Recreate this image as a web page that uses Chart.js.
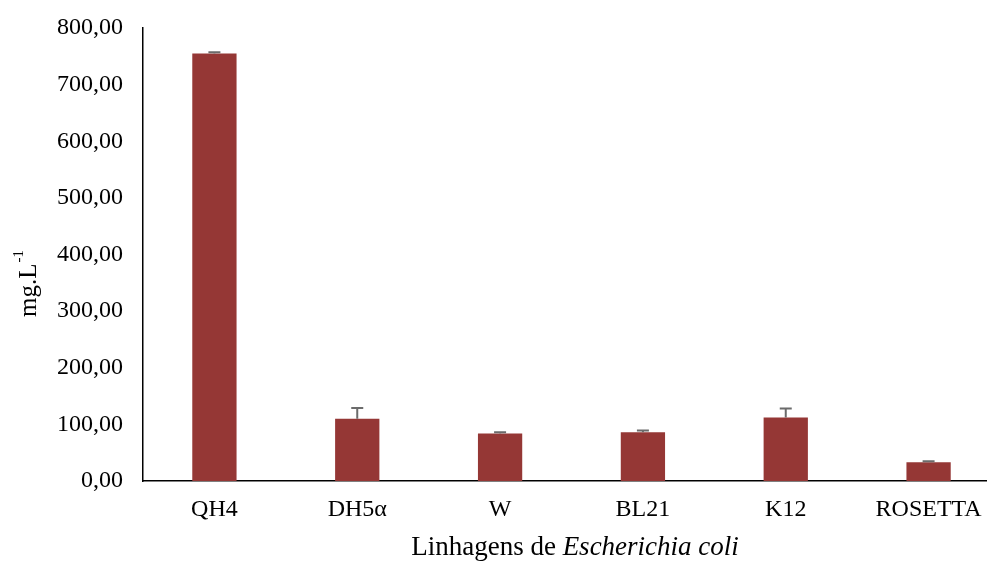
<!DOCTYPE html>
<html>
<head>
<meta charset="utf-8">
<script src="https://cdn.jsdelivr.net/npm/chart.js@4"></script>
<style>
  body { margin: 0; background: #fff; overflow: hidden; }
  #wrap { width: 1000px; height: 561px; position: relative; }
</style>
</head>
<body>
<div id="wrap"><canvas id="chart"></canvas></div>
<script>
// data
var strains = ['QH4', 'DH5\u03b1', 'W', 'BL21', 'K12', 'ROSETTA'];
var values = [755, 110, 84, 86, 112, 33];
var errors = [2, 19, 2, 3, 16, 2];
var yTicks = [0, 100, 200, 300, 400, 500, 600, 700, 800];

var fontFam = '"Liberation Serif", "Times New Roman", serif';

function fmt(v) {
  return v.toFixed(2).replace('.', ',');
}

// upward error bars + axis titles
var extras = {
  id: 'extras',
  afterDatasetsDraw: function(chart) {
    var ctx = chart.ctx;
    var y = chart.scales.y;
    var meta = chart.getDatasetMeta(0);
    ctx.save();
    ctx.strokeStyle = '#6b6b6b';
    ctx.lineWidth = 2;
    meta.data.forEach(function(bar, i) {
      var top = y.getPixelForValue(values[i] + errors[i]);
      var base = y.getPixelForValue(values[i]);
      ctx.beginPath();
      ctx.moveTo(bar.x, base);
      ctx.lineTo(bar.x, top);
      ctx.moveTo(bar.x - 6, top);
      ctx.lineTo(bar.x + 6, top);
      ctx.stroke();
    });
    ctx.restore();
  },
  afterDraw: function(chart) {
    var ctx = chart.ctx;
    ctx.save();
    ctx.fillStyle = '#000';

    // y title: mg.L-1 with superscript
    ctx.translate(29, 284);
    ctx.rotate(-Math.PI / 2);
    ctx.textBaseline = 'middle';
    ctx.textAlign = 'left';
    var main = 'mg.L';
    ctx.font = '15px ' + fontFam;
    var supW = ctx.measureText('-1').width;
    ctx.font = '25px ' + fontFam;
    var mainW = ctx.measureText(main).width;
    var sx = -(mainW + supW) / 2;
    ctx.fillText(main, sx, 0);
    ctx.font = '15px ' + fontFam;
    ctx.fillText('-1', sx + mainW + 1, -10);
    ctx.setTransform(1, 0, 0, 1, 0, 0);

    // x title with italic species name
    var p1 = 'Linhagens de ';
    var p2 = 'Escherichia coli';
    ctx.font = '27px ' + fontFam;
    var w1 = ctx.measureText(p1).width;
    ctx.font = 'italic 27px ' + fontFam;
    var w2 = ctx.measureText(p2).width;
    var cx = 575 - (w1 + w2) / 2;
    ctx.textBaseline = 'middle';
    ctx.font = '27px ' + fontFam;
    ctx.fillText(p1, cx, 548);
    ctx.font = 'italic 27px ' + fontFam;
    ctx.fillText(p2, cx + w1, 548);
    ctx.restore();
  }
};

new Chart(document.getElementById('chart'), {
  type: 'bar',
  data: {
    labels: strains,
    datasets: [{
      data: values,
      backgroundColor: '#953735',
      borderWidth: 0,
      categoryPercentage: 1,
      barPercentage: 0.31
    }]
  },
  options: {
    responsive: true,
    maintainAspectRatio: false,
    animation: false,
    events: [],
    layout: { padding: { top: 28, left: 0, right: 0, bottom: 0 } },
    plugins: {
      legend: { display: false },
      tooltip: { enabled: false }
    },
    scales: {
      x: {
        grid: { display: false, drawTicks: false },
        border: { display: true, color: '#000', width: 1.5 },
        ticks: {
          color: '#000',
          padding: 14,
          maxRotation: 0,
          font: { family: fontFam, size: 24 }
        },
        afterFit: function(s) {
          s.height = 80;
          s.paddingLeft = 0;
          s.paddingRight = 0;
        }
      },
      y: {
        min: 0,
        max: 800,
        grid: { display: false, drawTicks: false },
        border: { display: true, color: '#000', width: 1.5 },
        afterBuildTicks: function(s) {
          s.ticks = yTicks.map(function(v) { return { value: v }; });
        },
        ticks: {
          color: '#000',
          padding: 20,
          font: { family: fontFam, size: 24 },
          callback: function(v) { return fmt(v); }
        },
        afterFit: function(s) {
          s.width = 143;
          s.paddingTop = 0;
          s.paddingBottom = 0;
        }
      }
    }
  },
  plugins: [extras]
});
</script>
</body>
</html>
